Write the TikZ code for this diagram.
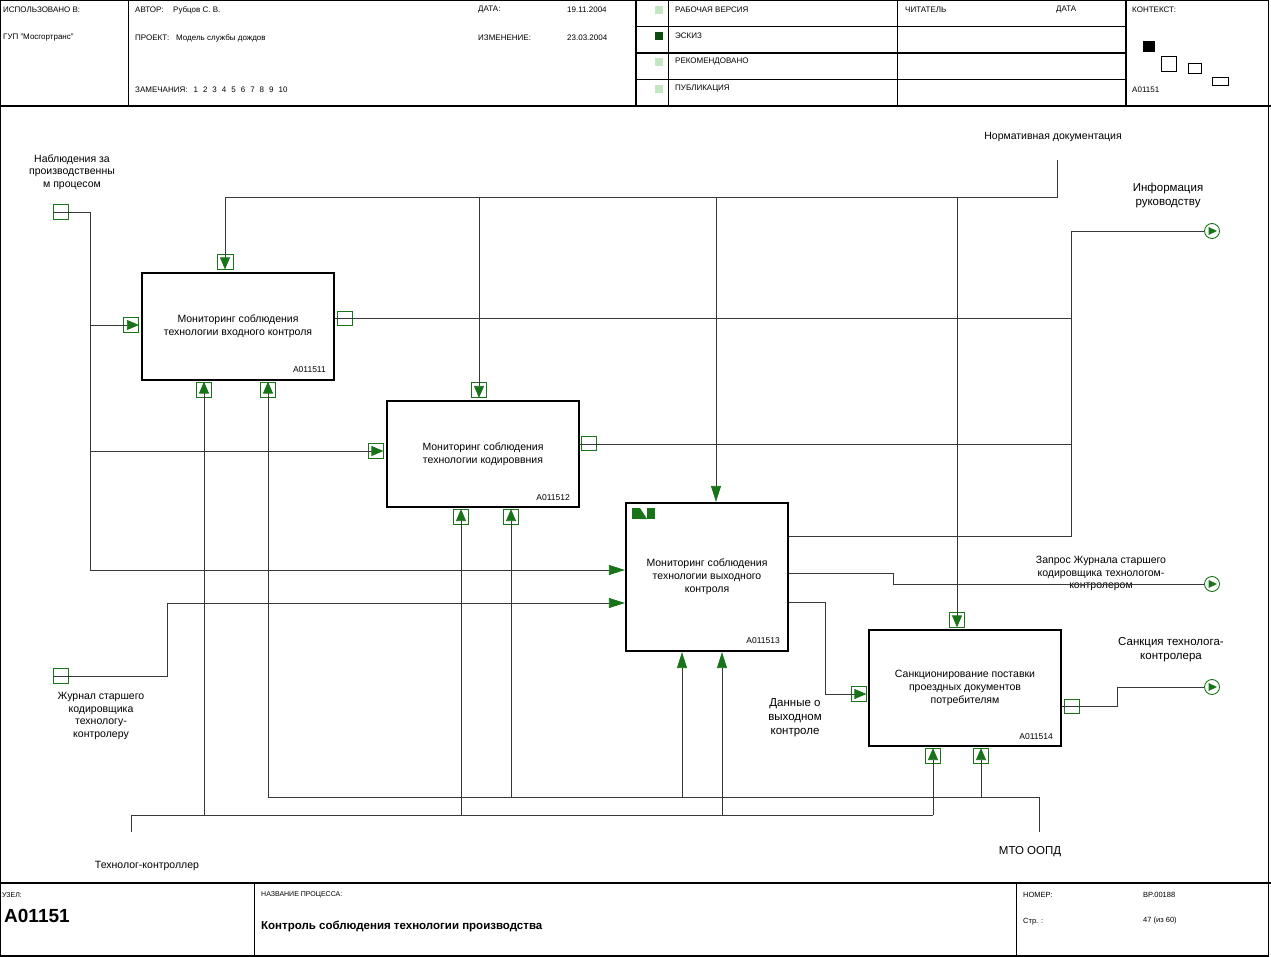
\documentclass[tikz,border=0pt]{standalone}
\usepackage{fontspec}
\setmainfont{Liberation Sans}
\usetikzlibrary{arrows.meta}
\definecolor{idg}{RGB}{25,115,25}
\definecolor{lgsq}{RGB}{195,230,195}
\definecolor{dgsq}{RGB}{15,75,15}
\begin{document}
\begin{tikzpicture}[x=1pt,y=-1pt,
  proc/.style={draw, line width=2.2pt, inner sep=0pt, align=center, font=\fontsize{10.5}{13}\selectfont},
  conn/.style={line width=0.8pt, draw=black!78},
  arr/.style={-{Triangle[length=12pt,width=10pt,color=idg]}},
  arrbig/.style={-{Triangle[length=16pt,width=10pt,color=idg]}},
  brk/.style={draw=idg, line width=0.8pt, minimum width=15pt, minimum height=15pt, inner sep=0pt},
  circm/.style={circle, draw=idg, line width=0.9pt, minimum size=15pt, inner sep=0pt},
  lbl/.style={font=\fontsize{10.5}{12.5}\selectfont, align=center, inner sep=0pt},
  lblb/.style={font=\fontsize{11.5}{14}\selectfont, align=center, inner sep=0pt},
  hd/.style={font=\fontsize{8}{9}\selectfont, anchor=west, inner sep=0pt},
  bid/.style={font=\fontsize{8.5}{9}\selectfont, anchor=east, inner sep=0pt},
  frame/.style={line width=1.2pt, draw=black},
  thin/.style={line width=0.9pt, draw=black},
  sq/.style={minimum size=8pt, inner sep=0pt}
]
\useasboundingbox (0,0) rectangle (1271,957);
% ---------- frame ----------
\draw[frame] (0.6,0.6) rectangle (1268.8,956);
\draw[line width=1.5pt] (0,106) -- (1271,106);
\draw[line width=1.5pt] (0,883) -- (1271,883);
% header verticals
\draw[thin] (128,0) -- (128,106);
\draw[line width=1.5pt] (636,0) -- (636,106);
\draw[thin] (668,0) -- (668,106);
\draw[thin] (897,0) -- (897,106);
\draw[line width=1.5pt] (1126,0) -- (1126,106);
\foreach \yy in {26.5,53,79.5} \draw[line width=1.5pt] (636,\yy) -- (1126,\yy);
% footer verticals
\draw[thin] (254,883) -- (254,956);
\draw[thin] (1016,883) -- (1016,956);
% ---------- header texts ----------
\node[hd] (h1) at (3,10) {ИСПОЛЬЗОВАНО В:};
\node[hd] (h2) at (3,38) {ГУП "Мосгортранс"};
\node[hd] (h3) at (135,10) {АВТОР:};
\node[hd] (h4) at (173,10) {Рубцов С. В.};
\node[hd] (h5) at (135,38) {ПРОЕКТ:};
\node[hd] (h6) at (176,38) {Модель службы дождов};
\node[hd] (h7) at (135,90) {ЗАМЕЧАНИЯ:\hspace{6pt}1\hspace{5pt}2\hspace{5pt}3\hspace{5pt}4\hspace{5pt}5\hspace{5pt}6\hspace{5pt}7\hspace{5pt}8\hspace{5pt}9\hspace{5pt}10};
\node[hd] (h8) at (478,10) {ДАТА:};
\node[hd] (h9) at (567,10) {19.11.2004};
\node[hd] (h10) at (478,38) {ИЗМЕНЕНИЕ:};
\node[hd] (h11) at (567,38) {23.03.2004};
\node[sq, fill=lgsq] (s1) at (659,10) {};
\node[sq, fill=dgsq] (s2) at (659,36.5) {};
\node[sq, fill=lgsq] (s3) at (659,62.5) {};
\node[sq, fill=lgsq] (s4) at (659,89) {};
\node[hd] (h12) at (675,10) {РАБОЧАЯ ВЕРСИЯ};
\node[hd] (h13) at (675,36) {ЭСКИЗ};
\node[hd] (h14) at (675,62) {РЕКОМЕНДОВАНО};
\node[hd] (h15) at (675,89) {ПУБЛИКАЦИЯ};
\node[hd] (h16) at (905,10) {ЧИТАТЕЛЬ};
\node[hd] (h17) at (1056,10) {ДАТА};
\node[hd] (h18) at (1132,10) {КОНТЕКСТ:};
\node[hd] (h19) at (1132,90) {A01151};
% context squares
\fill[black] (1143,41) rectangle (1154.5,52);
\draw[line width=0.8pt] (1161.5,56) rectangle (1176.5,71);
\draw[line width=0.8pt] (1188,63) rectangle (1201,73);
\draw[line width=0.8pt] (1212.5,77.5) rectangle (1228,85);
% ---------- footer texts ----------
\node[hd, font=\fontsize{7}{8}\selectfont] (f1) at (2,895) {УЗЕЛ:};
\node[hd, font=\fontsize{19}{20}\selectfont\bfseries] (f2) at (4,916) {A01151};
\node[hd, font=\fontsize{7}{8}\selectfont] (f3) at (261,895) {НАЗВАНИЕ ПРОЦЕССА:};
\node[hd, font=\fontsize{11.5}{13}\selectfont\bfseries] (f4) at (261,926) {Контроль соблюдения технологии производства};
\node[hd, font=\fontsize{7.5}{8}\selectfont] (f5) at (1023,895) {НОМЕР:};
\node[hd, font=\fontsize{7.5}{8}\selectfont] (f6) at (1143,895) {BP.00188};
\node[hd, font=\fontsize{7.5}{8}\selectfont] (f7) at (1023,922) {Стр. :};
\node[hd, font=\fontsize{7.5}{8}\selectfont] (f8) at (1143,921) {47 (из 60)};
% ---------- activity boxes ----------
\node[proc, minimum width=192pt, minimum height=107pt] (b1) at (238,326.5) {Мониторинг соблюдения\\технологии входного контроля};
\node[proc, minimum width=192pt, minimum height=106pt] (b2) at (483,454) {Мониторинг соблюдения\\технологии кодироввния};
\node[proc, minimum width=162pt, minimum height=148pt] (b3) at (707,577) {Мониторинг соблюдения\\технологии выходного\\контроля};
\node[proc, minimum width=192pt, minimum height=116pt] (b4) at (965,688) {Санкционирование поставки\\проездных документов\\потребителям};
\node[bid] (id1) at (326,370) {A011511};
\node[bid] (id2) at (570,498) {A011512};
\node[bid] (id3) at (780,641) {A011513};
\node[bid] (id4) at (1053,737) {A011514};
% box3 icon
\fill[idg] (632,508) rectangle (640,519);
\fill[idg] (640,508) -- (647,519) -- (640,519) -- cycle;
\fill[idg] (647,508) rectangle (655,519);
% ---------- brackets ----------
\node[brk] (k11) at (131,325) {};
\node[brk, minimum width=16pt] (k12) at (225,261.5) {};
\node[brk] (k13) at (204,389.5) {};
\node[brk] (k14) at (268,389.5) {};
\node[brk] (k21) at (375.5,451) {};
\node[brk] (k22) at (479,390) {};
\node[brk] (k23) at (461,517) {};
\node[brk] (k24) at (511,517) {};
\node[brk] (k41) at (858.5,694) {};
\node[brk] (k42) at (957,619.5) {};
\node[brk] (k43) at (933,756) {};
\node[brk] (k44) at (981,756) {};
\node[brk, minimum height=14pt] (o1) at (344.5,318) {};
\node[brk, minimum height=14pt] (o2) at (589,443.5) {};
\node[brk, minimum height=14pt] (o6) at (1072,706) {};
\node[brk, minimum height=15pt] (t1) at (61,211.5) {};
\node[brk, minimum height=15pt] (t2) at (61,675.5) {};
% ---------- circle markers ----------
\foreach \n/\yy in {c1/231, c2/584, c3/687} {
  \node[circm] (\n) at (1212,\yy) {};
  \fill[idg] ([shift={(-3.5,-4)}]\n.center) -- ([shift={(-3.5,4)}]\n.center) -- ([shift={(5,0)}]\n.center) -- cycle;
}
% ---------- labels ----------
\node[lbl] (n1) at (72,172) {Наблюдения за\\производственны\\м процесом};
\node[lbl] (n2) at (1053,137) {Нормативная документация};
\node[lblb] (n3) at (1168,196) {Информация\\руководству};
\node[lbl] (n4) at (1101,573.5) {Запрос Журнала старшего\\кодировщика технологом-\\контролером};
\node[lblb] (n5) at (1171,650) {Санкция технолога-\\контролера};
\node[lblb] (n6) at (795,718) {Данные о\\выходном\\контроле};
\node[lbl] (n7) at (101,716) {Журнал старшего\\кодировщика\\технологу-\\контролеру};
\node[lbl] (n8) at (147,866) {Технолог-контроллер};
\node[lblb] (n9) at (1030,852) {МТО ООПД};
% ---------- inputs ----------
\coordinate (i1) at (90,212);
\draw[conn, arrbig] (t1.west |- 0,212) -- (i1) |- (b3.west |- 0,570);
\draw[conn, arr] (i1 |- 0,325) -- (k11.east);
\draw[conn, arr] (i1 |- 0,451) -- (k21.east);
\coordinate (i2) at (167,676);
\draw[conn, arrbig] (t2.west |- 0,676) -- (i2) |- (b3.west |- 0,603);
% ---------- controls ----------
\coordinate (cn) at (1057,160);
\coordinate (cj) at (1057,197);
\draw[conn, arr] (cn) -- (cj) -| (k12.south);
\draw[conn, arr] (479,197) -- (k22.south);
\draw[conn, arrbig] (716,197) -- (716,0 |- b3.north);
\draw[conn, arr] (957,197) -- (k42.south);
% ---------- outputs ----------
\coordinate (ov) at (1071,231);
\draw[conn] (b1.east |- 0,318) -- (1071,318);
\draw[conn] (b2.east |- 0,444) -- (1071,444);
\draw[conn] (b3.east |- 0,536) -- (1071,536) -- (ov) -- (c1.west);
\draw[conn] (b3.east |- 0,573) -- (893,573) -- (893,584) -- (c2.west);
\draw[conn, arr] (b3.east |- 0,602) -- (825,602) |- (k41.east);
\draw[conn] (b4.east |- 0,706) -- (1117,706) -- (1117,687) -- (c3.west);
% ---------- mechanisms ----------
\coordinate (m1) at (131,832);
\coordinate (m2) at (1039,832);
\draw[conn] (m1) -- (131,815) -- (933,815);
\draw[conn] (m2) -- (1039,797) -- (268,797);
\draw[conn, arr] (204,815) -- (k13.north);
\draw[conn, arr] (268,797) -- (k14.north);
\draw[conn, arr] (461,815) -- (k23.north);
\draw[conn, arr] (511,797) -- (k24.north);
\draw[conn, arrbig] (682,797) -- (682,0 |- b3.south);
\draw[conn, arrbig] (722,815) -- (722,0 |- b3.south);
\draw[conn, arr] (933,815) -- (k43.north);
\draw[conn, arr] (981,797) -- (k44.north);
\end{tikzpicture}
\end{document}
